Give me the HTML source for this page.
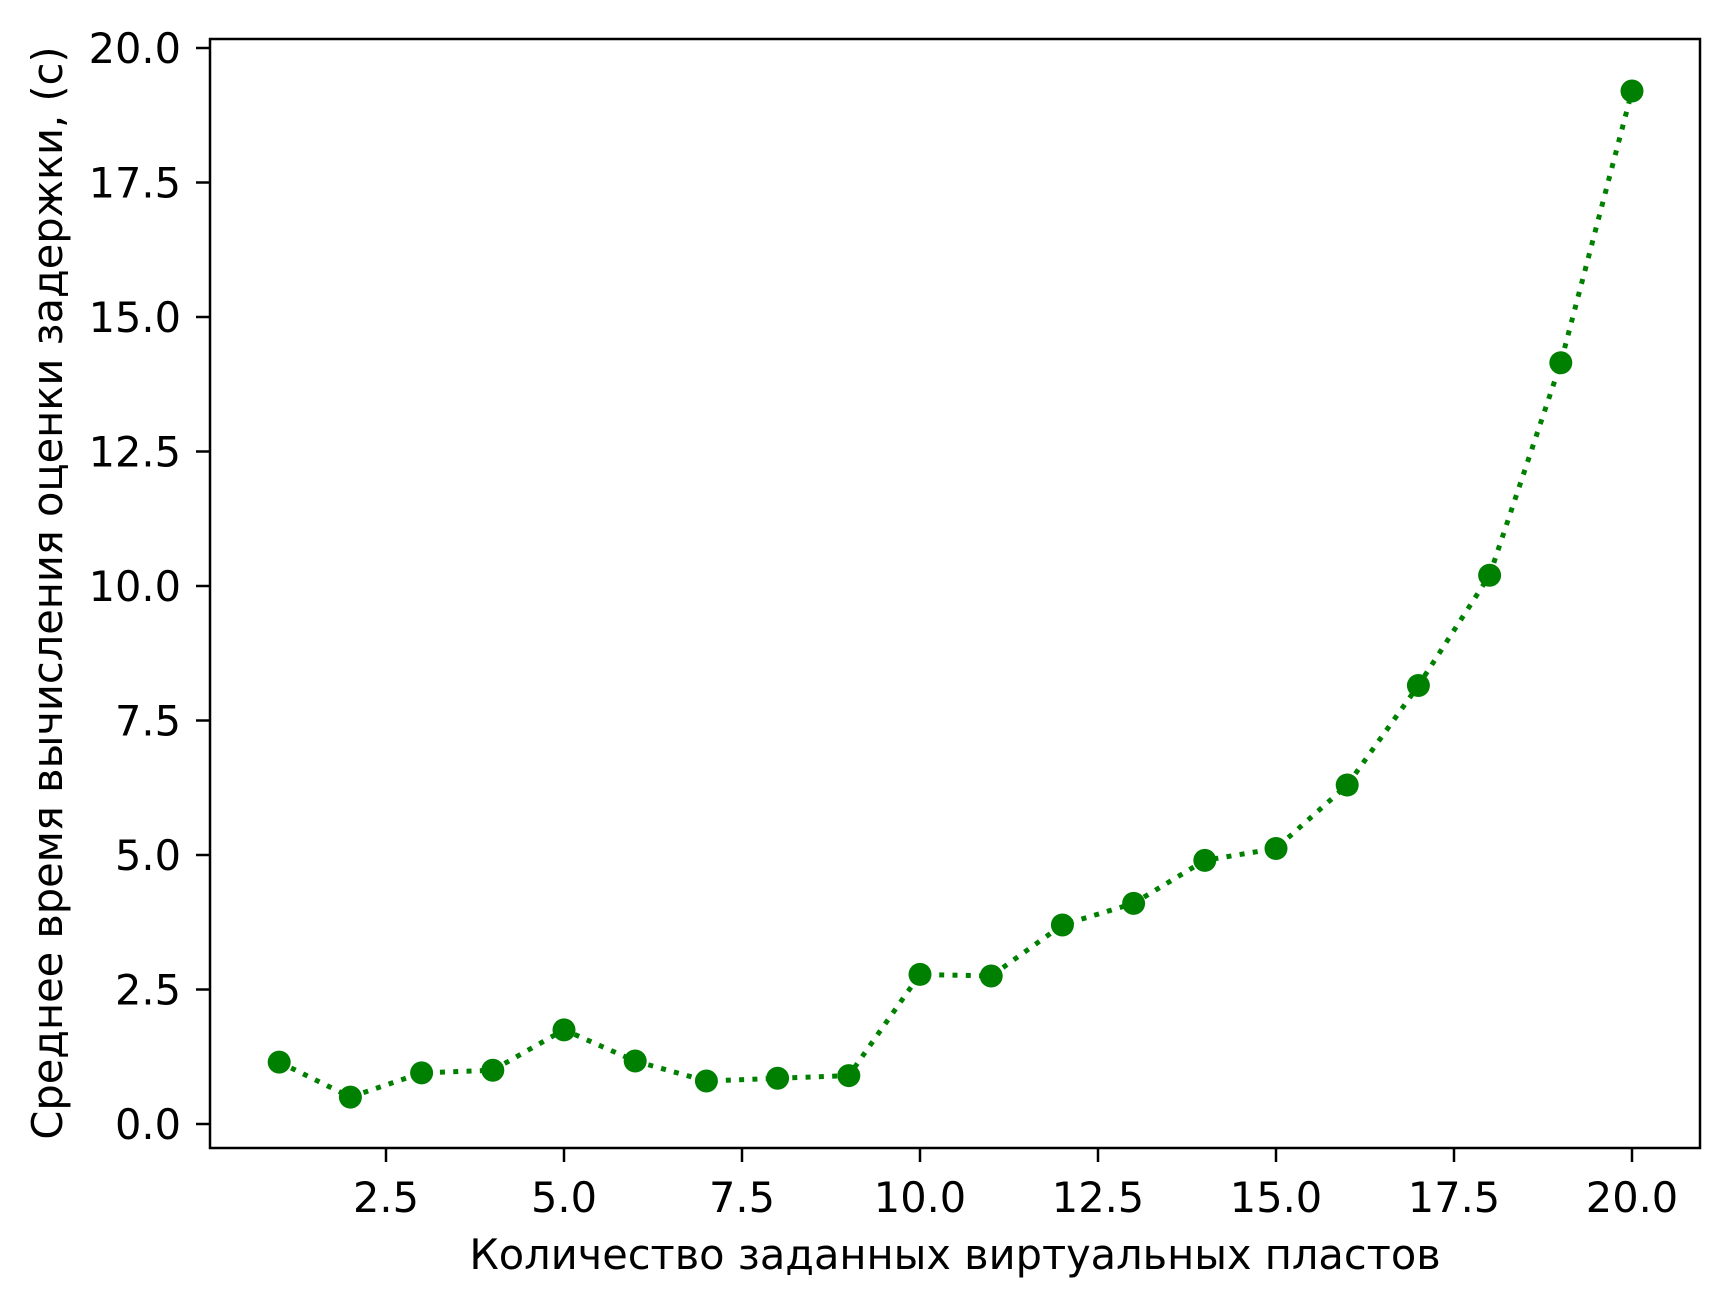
<!DOCTYPE html>
<html><head><meta charset="utf-8"><style>
html,body{margin:0;padding:0;background:#fff}
svg{display:block}
text{font-family:"DejaVu Sans","Liberation Sans",sans-serif;fill:#000}
</style></head><body>
<svg id="chart" width="1728" height="1308" viewBox="0 0 1728 1308" xmlns="http://www.w3.org/2000/svg">
<rect width="1728" height="1308" fill="#fff"/>
<text transform="translate(62,593) rotate(-90)" text-anchor="middle" font-size="41.5">Среднее время вычисления оценки задержки, (с)</text>
<text x="955" y="1269" text-anchor="middle" font-size="41.5">Количество заданных виртуальных пластов</text>
</svg>
<script>
const xValues = [1,2,3,4,5,6,7,8,9,10,11,12,13,14,15,16,17,18,19,20];
const yValues = [1.15,0.5,0.95,1.0,1.75,1.17,0.8,0.85,0.9,2.78,2.75,3.7,4.1,4.9,5.12,6.3,8.15,10.2,14.15,19.2];
const xTicks = [2.5,5.0,7.5,10.0,12.5,15.0,17.5,20.0];
const yTicks = [0.0,2.5,5.0,7.5,10.0,12.5,15.0,17.5,20.0];

const L=210,R=1700,T=39,B=1148;
function xs(v){return 1632+(v-20)*71.2;}
function ys(v){return 1124-v*53.8;}
const NS='http://www.w3.org/2000/svg';
const svg=document.getElementById('chart');
function mk(tag,attrs){const e=document.createElementNS(NS,tag);for(const k in attrs)e.setAttribute(k,attrs[k]);svg.appendChild(e);return e;}

let d='';
xValues.forEach((x,i)=>{d+=(i?'L':'M')+xs(x).toFixed(1)+','+ys(yValues[i]).toFixed(1);});
const line=mk('path',{d:d,fill:'none',stroke:'#008000','stroke-width':5,'stroke-dasharray':'5 8.3'});


xValues.forEach((x,i)=>{
  const c=mk('circle',{cx:xs(x),cy:ys(yValues[i]),r:11.5,fill:'#008000'});
  
  
});
const frame=mk('rect',{x:L,y:T,width:R-L,height:B-T,fill:'none',stroke:'#000','stroke-width':2.5});


xTicks.forEach(v=>{
  const t=mk('line',{x1:xs(v),x2:xs(v),y1:B,y2:B+14,stroke:'#000','stroke-width':2.5});
  
  
  const tx=mk('text',{x:xs(v),y:1212,'text-anchor':'middle','font-size':41.5});
  tx.textContent=v.toFixed(1);
  
  
});
yTicks.forEach(v=>{
  const t=mk('line',{x1:L-14,x2:L,y1:ys(v),y2:ys(v),stroke:'#000','stroke-width':2.5});
  
  
  const tx=mk('text',{x:181,y:ys(v)+15,'text-anchor':'end','font-size':41.5});
  tx.textContent=v.toFixed(1);
  
  
});
</script>
</body></html>
